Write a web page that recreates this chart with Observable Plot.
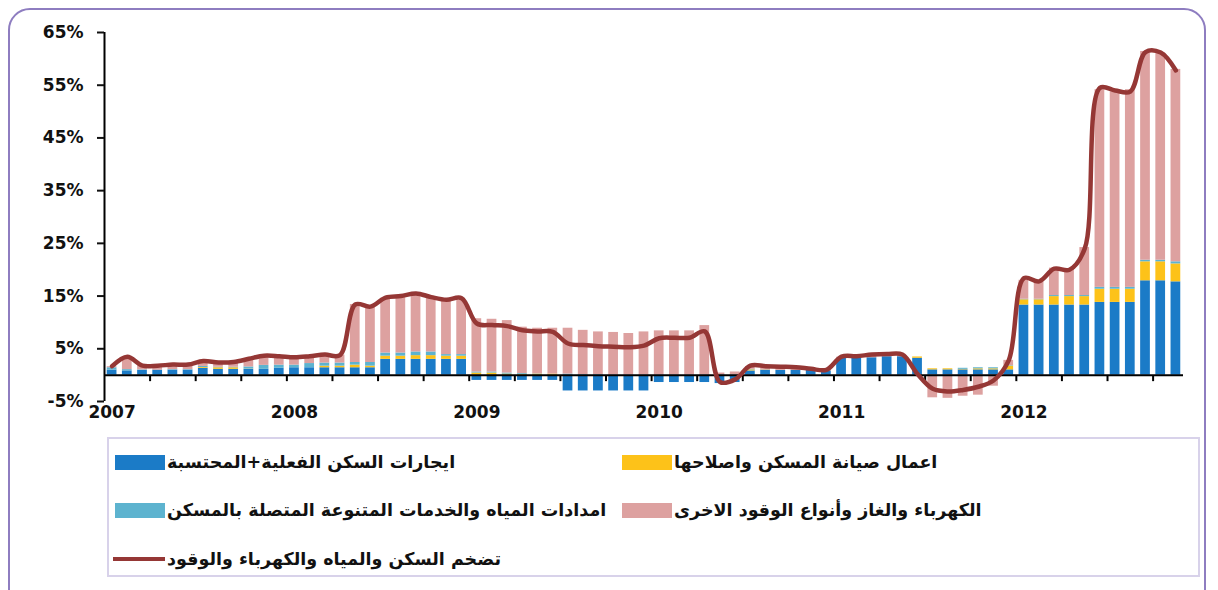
<!DOCTYPE html>
<html>
<head>
<meta charset="utf-8">
<script src="https://cdn.jsdelivr.net/npm/d3@7"></script>
<script src="https://cdn.jsdelivr.net/npm/@observablehq/plot@0.6"></script>
<style>
  html, body { margin: 0; padding: 0; background: #fff; }
  #wrap { position: relative; width: 1218px; height: 590px; overflow: hidden; background: #fff; }
  #frame { position: absolute; left: 8px; top: 8px; width: 1198px; height: 640px; border: 2.5px solid #8e7dc0; border-radius: 22px; box-sizing: border-box; }
  #chart { position: absolute; left: 0; top: 0; }
  #legend { position: absolute; left: 107px; top: 437px; width: 1093px; height: 140px; border: 2px solid #d8d2ea; box-sizing: border-box; }
  .item { position: absolute; display: flex; align-items: center; height: 26px; direction: ltr; }
  .sw { width: 50px; height: 15px; margin-right: 2px; }
  .ln { width: 52px; height: 4px; margin-right: 2px; }
  .lab { font-family: "DejaVu Sans", sans-serif; font-weight: bold; font-size: 17.5px; color: #111; white-space: nowrap; }
</style>
</head>
<body>
<div id="wrap">
  <div id="frame"></div>
  <div id="chart"></div>
  <div id="legend"></div>
</div>
<script>
// Series (monthly, Jan 2007 – Nov 2012), contributions in percentage points
const rent = [0.95,0.8,0.9,0.95,0.95,0.95,1.3,1.1,1.1,1.1,1.1,1.3,
  1.4,1.4,1.4,1.4,1.4,1.4,3.0,3.0,3.0,3.0,3.0,3.0,
  -1.0,-1.0,-1.0,-1.0,-1.0,-1.0,-3.0,-3.0,-3.0,-3.0,-3.0,-3.0,
  -1.4,-1.4,-1.4,-1.4,-1.6,-1.4,0.8,0.95,0.9,0.9,0.9,0.8,
  3.2,3.2,3.3,3.5,3.5,3.2,1.0,1.0,1.0,1.0,1.0,1.0,
  13.3,13.3,13.3,13.3,13.3,13.8,13.8,13.8,17.9,17.9,17.7];
const maint = [0,0,0,0,0,0,0.15,0.3,0.3,0.05,0,0,
  0,0,0.3,0.3,0.5,0.3,0.6,0.6,0.7,0.7,0.6,0.6,
  0.4,0.4,0.2,0.15,0.2,0.2,0,0,0,0,0,0,
  0,0,0,0,0,0,0.2,0.05,0,0,0,0,
  0,0,0,0,0,0.25,0.2,0.2,0.1,0.2,0.2,0.7,
  1.0,1.0,1.6,1.6,1.6,2.5,2.5,2.5,3.6,3.6,3.4];
const water = [0.45,0.25,0.1,0,0.1,0.1,0.2,0.1,0.1,0.4,0.75,0.6,
  0.5,0.8,0.6,0.6,0.5,0.7,0.6,0.6,0.7,0.7,0.3,0.3,
  0.2,0.2,0.2,0.15,0.05,0,0.2,0.1,0.1,0,0,0,
  0,0,0,0,0,0,0.1,0,0,0,0,0,
  0,0,0,0,0,0,0,0,0.2,0.2,0.2,0.1,
  0.1,0.1,0.2,0.2,0.2,0.35,0.35,0.35,0.3,0.3,0.4];
const elec = [0.2,2.2,0.8,0.8,0.9,0.9,1.0,0.9,1.0,1.5,1.85,1.7,
  1.5,1.4,1.6,1.5,11.0,10.6,10.4,10.6,10.9,10.3,10.1,10.3,
  10.1,10.0,9.95,8.8,8.65,8.7,8.7,8.4,8.1,8.1,7.9,8.2,
  8.4,8.4,8.4,9.4,0.4,0.6,0.5,0.5,0.5,0.4,0.2,0.1,
  0.2,0.3,0.4,0.3,0.2,0,-4.3,-4.4,-4.0,-3.8,-2.1,1.0,
  3.6,3.3,5.2,5.0,9.1,37.5,37.1,37.5,39.6,39.3,36.5];
const total = [1.7,3.5,1.8,1.8,2.0,2.0,2.7,2.4,2.5,3.1,3.7,3.6,
  3.4,3.6,3.9,3.8,13.4,13.0,14.7,15.0,15.5,14.8,14.3,14.6,
  9.8,9.5,9.3,8.5,8.3,8.2,6.0,5.7,5.5,5.4,5.3,5.6,
  7.0,7.1,7.1,8.3,-1.3,-0.8,1.8,1.7,1.6,1.5,1.2,1.0,
  3.5,3.6,3.9,4.0,3.9,0.2,-2.6,-3.1,-2.8,-2.2,-1.0,2.8,
  18.4,17.8,20.2,20.0,24.0,54.5,54.0,53.8,61.3,61.2,57.8];

const yearLabels = ["2007","2008","2009","2010","2011","2012"];
const yTicks = [-5,5,15,25,35,45,55,65];

const seriesNames = [
  "ايجارات السكن الفعلية+المحتسبة",
  "اعمال صيانة المسكن واصلاحها",
  "امدادات المياه والخدمات المتنوعة المتصلة بالمسكن",
  "الكهرباء والغاز وأنواع الوقود الاخرى"
];
const lineName = "تضخم السكن والمياه والكهرباء والوقود";
const colors = ["#1b7bc7", "#fdc219", "#5db3cf", "#dda1a0"];
const lineColor = "#953735";

const seriesValues = [rent, maint, water, elec];
const table = [];
seriesValues.forEach((arr, s) => arr.forEach((v, i) => table.push({i, series: seriesNames[s], value: v})));
const lineData = total.map((v, i) => ({i, v}));
const n = total.length;
const xTicks = d3.range(2.5, n, 3);
const yearTickPos = yearLabels.map((_, k) => k * 12);

const tickSymbol = { draw(context) { context.moveTo(0, 0); context.lineTo(0, 6); } };

const chart = Plot.plot({
  width: 1218,
  height: 425,
  marginLeft: 104,
  marginRight: 35,
  marginTop: 32,
  marginBottom: 24,
  style: { fontFamily: "DejaVu Sans, sans-serif", fontWeight: "bold", fontSize: "17px", color: "#111", background: "transparent" },
  x: { domain: [-0.5, n - 0.5] },
  y: { domain: [-5, 65] },
  color: { domain: seriesNames, range: colors },
  marks: [
    Plot.rectY(table, {
      x1: d => d.i - 0.32,
      x2: d => d.i + 0.32,
      y: "value",
      z: "series",
      fill: "series"
    }),
    Plot.ruleY([0], { stroke: "#000", strokeWidth: 2 }),
    Plot.ruleX([-0.5], { stroke: "#000", strokeWidth: 2 }),
    Plot.dot(xTicks, { x: d => d, y: () => 0, symbol: tickSymbol, stroke: "#000", strokeWidth: 2, fill: "none" }),
    Plot.axisY({ ticks: yTicks, tickFormat: d => `${d}%`, tickSize: 7, tickPadding: 14, strokeWidth: 2, label: null }),
    Plot.axisX({ ticks: yearTickPos, tickFormat: d => yearLabels[d / 12], tickSize: 0, tickPadding: 4, label: null }),
    Plot.line(lineData, { x: "i", y: "v", stroke: lineColor, strokeWidth: 4.5, curve: "catmull-rom" })
  ]
});
document.getElementById("chart").appendChild(chart);

// Legend
const legend = document.getElementById("legend");
const items = [
  { name: seriesNames[0], color: colors[0], left: 6, top: 10, type: "rect" },
  { name: seriesNames[1], color: colors[1], left: 513, top: 10, type: "rect" },
  { name: seriesNames[2], color: colors[2], left: 6, top: 58, type: "rect" },
  { name: seriesNames[3], color: colors[3], left: 513, top: 58, type: "rect" },
  { name: lineName, color: lineColor, left: 4, top: 107, type: "line" }
];
for (const it of items) {
  const el = document.createElement("div");
  el.className = "item";
  el.style.left = it.left + "px";
  el.style.top = it.top + "px";
  const sw = document.createElement("div");
  sw.className = it.type === "line" ? "ln" : "sw";
  sw.style.background = it.color;
  const lab = document.createElement("span");
  lab.className = "lab";
  lab.dir = "rtl";
  lab.textContent = it.name;
  el.appendChild(sw);
  el.appendChild(lab);
  legend.appendChild(el);
}
</script>
</body>
</html>
